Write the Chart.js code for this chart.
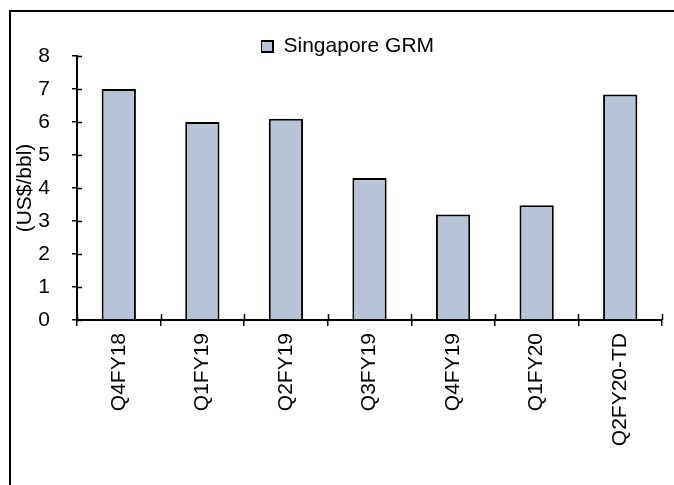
<!DOCTYPE html>
<html><head><meta charset="utf-8">
<script src="https://cdn.jsdelivr.net/npm/chart.js@4/dist/chart.umd.min.js"></script>
<style>
html,body{margin:0;padding:0;background:#fff;}
#wrap{position:relative;width:674px;height:485px;overflow:hidden;background:#fff;}
#frame{position:absolute;left:9px;top:10px;width:700px;height:500px;border-top:2px solid #000;border-left:2px solid #000;box-sizing:border-box;pointer-events:none;}
canvas{position:absolute;left:0;top:0;}
</style></head><body>
<div id="wrap"><canvas id="c" width="674" height="485"></canvas><div id="frame"></div></div>
<script>
const categories = ['Q4FY18','Q1FY19','Q2FY19','Q3FY19','Q4FY19','Q1FY20','Q2FY20-TD'];
const grmValues = [7.0, 6.0, 6.1, 4.3, 3.2, 3.48, 6.83];
const yTickValues = [0,1,2,3,4,5,6,7,8];
const seriesLabel = 'Singapore GRM';
const yTitle = '(US$/bbl)';

const FONT = "'Liberation Sans', Arial, sans-serif";

const legendPlace = {
  id: 'legendPlace',
  beforeDraw(chart) {
    const lg = chart.legend;
    if (!lg) return;
    lg.left = 261; lg.right = 674; lg.top = 36; lg.bottom = 62;
  }
};

const crossTicks = {
  id: 'crossTicks',
  afterDraw(chart) {
    const ctx = chart.ctx, x = chart.scales.x, y = chart.scales.y;
    ctx.save();
    ctx.strokeStyle = '#000';
    ctx.lineWidth = 1.5;
    ctx.beginPath();
    y.ticks.forEach((t) => {
      const py = Math.round(y.getPixelForValue(t.value)) + 0.5;
      ctx.moveTo(x.left, py); ctx.lineTo(x.left + 5, py);
    });
    const n = categories.length;
    for (let i = 0; i <= n; i++) {
      let px;
      if (i === 0) px = x.left;
      else if (i === n) px = x.right;
      else px = (x.getPixelForValue(i - 1) + x.getPixelForValue(i)) / 2;
      px = Math.round(px) + 0.5;
      ctx.moveTo(px, y.bottom); ctx.lineTo(px, y.bottom - 6);
    }
    ctx.stroke();
    ctx.restore();
  }
};

new Chart(document.getElementById('c'), {
  type: 'bar',
  data: {
    labels: categories,
    datasets: [{
      label: seriesLabel,
      data: grmValues,
      backgroundColor: '#B8C3D6',
      borderColor: '#000',
      borderWidth: 2,
      categoryPercentage: 1,
      barPercentage: 0.41
    }]
  },
  options: {
    responsive: false,
    animation: false,
    devicePixelRatio: 1,
    layout: { padding: { top: 56, right: 12, bottom: 0, left: 0 } },
    plugins: {
      tooltip: { enabled: false },
      legend: {
        position: 'chartArea',
        align: 'start',
        labels: {
          boxWidth: 12, boxHeight: 11, padding: 0,
          color: '#000',
          font: { family: FONT, size: 21 }
        }
      }
    },
    scales: {
      x: {
        grid: { display: true, drawOnChartArea: false, drawTicks: true, tickLength: 6, color: '#000', lineWidth: 1.5 },
        border: { color: '#000', width: 2 },
        ticks: { autoSkip: false, minRotation: 90, maxRotation: 90, padding: 7, color: '#000', font: { family: FONT, size: 21 } },
        afterFit(s) { s.height = 165; }
      },
      y: {
        min: 0, max: 8,
        afterBuildTicks(s) { s.ticks = yTickValues.map(v => ({ value: v })); },
        grid: { display: true, drawOnChartArea: false, drawTicks: true, tickLength: 5, color: '#000', lineWidth: 1.5 },
        border: { color: '#000', width: 2 },
        ticks: { padding: 22, color: '#000', font: { family: FONT, size: 21 } },
        title: { display: true, text: yTitle, color: '#000', font: { family: FONT, size: 21 }, padding: { top: 13, bottom: 0 } },
        afterFit(s) { s.width = 77; }
      }
    }
  },
  plugins: [legendPlace, crossTicks]
});
</script>
</body></html>
